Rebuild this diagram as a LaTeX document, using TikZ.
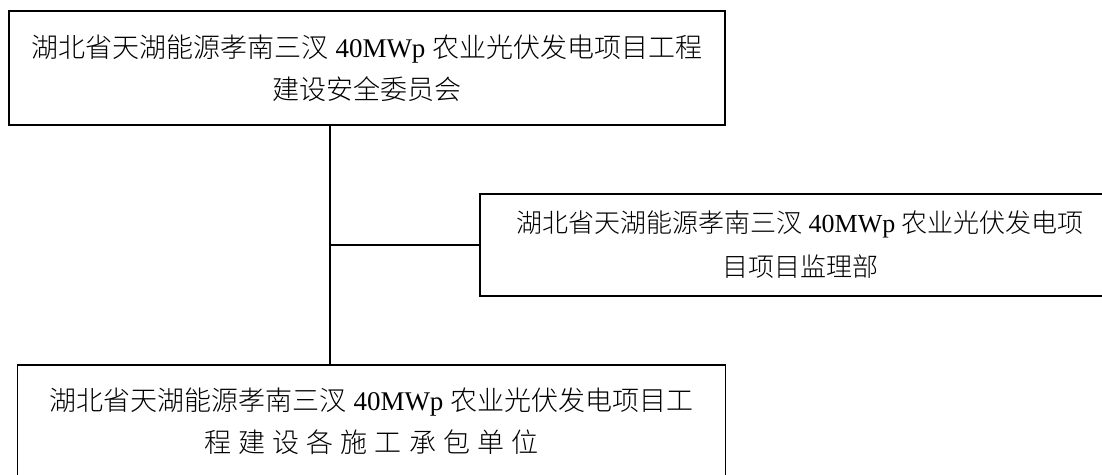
\documentclass[tikz,border=0pt]{standalone}
\usepackage{fontspec}
\setmainfont{Liberation Serif}
\newfontfamily\cjk{Noto Sans CJK SC Light}
\newfontfamily\cjkwide{Noto Sans CJK SC Light}[LetterSpace=26]
\usepackage{tikz}
\usetikzlibrary{calc}
\tikzset{orgbox/.style={draw=black, line width=1.5pt, align=center, inner sep=0pt, font=\fontsize{27}{42}\selectfont}}
\def\cn#1{{\cjk #1}}

\begin{document}
\begin{tikzpicture}[x=1pt, y=-1pt]
  % \draw[gray] (0,0) grid (1102,474);
  \useasboundingbox (0,0) rectangle (1102,474);
  \node[orgbox, minimum width=716pt, minimum height=114pt] (committee) at (367,68)
    {\cn{湖北省天湖能源孝南三汊} 40MWp \cn{农业光伏发电项目工程}\\ \cn{建设安全委员会}};
  \node[orgbox, minimum width=640pt, minimum height=102pt, font=\fontsize{26}{44}\selectfont] (supervisor) at (800,245)
    {\cn{湖北省天湖能源孝南三汊} 40MWp \cn{农业光伏发电项}\\ \cn{目项目监理部}};
  \node[orgbox, minimum width=708pt, minimum height=112pt] (contractor) at (371.5,421)
    {\cn{湖北省天湖能源孝南三汊} 40MWp \cn{农业光伏发电项目工}\\ {\cjkwide 程建设各施工承包单位}};

  \coordinate (trunk) at (330,0);
  \draw[line width=1.5pt] (committee.south -| trunk) -- (contractor.north -| trunk);
  \draw[line width=1.5pt] (supervisor.west) -- (supervisor.west -| trunk);

\end{tikzpicture}
\end{document}
